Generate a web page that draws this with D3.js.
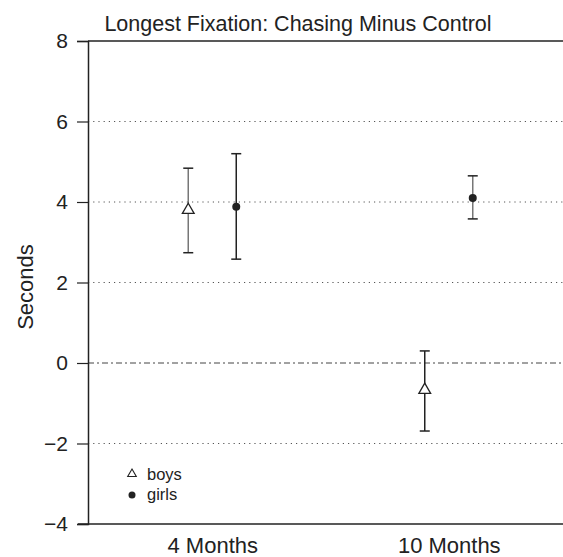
<!DOCTYPE html>
<meta charset="utf-8">
<style>
  body { margin: 0; background: #fff; }
  text { font-family: "Liberation Sans", Arial, sans-serif; fill: #222; }
  .grid line { stroke: #555; stroke-width: 1; stroke-dasharray: 1.2 4; }
</style>
<svg width="563" height="557"></svg>
<script src="https://d3js.org/d3.v7.min.js"></script>
<script>
// data: longest fixation difference (s), point estimate and interval
var ages = ["4 Months", "10 Months"];
var groups = ["boys", "girls"];
var boysMean = [3.8, -0.67];
var boysLow = [2.74, -1.69];
var boysHigh = [4.84, 0.3];
var girlsMean = [3.88, 4.1];
var girlsLow = [2.58, 3.58];
var girlsHigh = [5.2, 4.65];
var yTicks = [-4, -2, 0, 2, 4, 6, 8];

var svg = d3.select("svg");
var mLeft = 88, mRight = 563, mTop = 41, mBottom = 524;

var x = d3.scalePoint().domain(ages).range([94, 567]).padding(0.5);
var y = d3.scaleLinear().domain([-4, 8]).range([mBottom, mTop]);
var offset = d3.scaleOrdinal().domain(groups).range([-24, 24]);

// build rows from the arrays
var rows = [];
ages.forEach(function(a, i) {
  rows.push({age: a, group: "boys", mean: boysMean[i], lo: boysLow[i], hi: boysHigh[i]});
  rows.push({age: a, group: "girls", mean: girlsMean[i], lo: girlsLow[i], hi: girlsHigh[i]});
});
// bar colours as in the figure (some bars drawn grey)
var barColor = {"4 Months|boys": "#777", "4 Months|girls": "#222", "10 Months|boys": "#222", "10 Months|girls": "#777"};

// dotted grid
svg.append("g").attr("class", "grid")
  .selectAll("line").data(yTicks.filter(function(d) { return d !== 0 && d !== 8 && d !== -4; }))
  .enter().append("line")
  .attr("x1", mLeft).attr("x2", mRight)
  .attr("y1", function(d) { return y(d); }).attr("y2", function(d) { return y(d); });

// zero line, dash-dot
svg.append("line")
  .attr("x1", mLeft).attr("x2", mRight)
  .attr("y1", y(0)).attr("y2", y(0))
  .attr("stroke", "#444").attr("stroke-width", 1)
  .attr("stroke-dasharray", "6 3 2 3");

// top frame line
svg.append("line")
  .attr("x1", mLeft).attr("x2", mRight)
  .attr("y1", y(8)).attr("y2", y(8))
  .attr("stroke", "#222").attr("stroke-width", 1.5);

// y axis
var yAxis = svg.append("g")
  .attr("transform", "translate(" + mLeft + ",0)")
  .call(d3.axisLeft(y).tickValues(yTicks).tickSize(11).tickPadding(9)
    .tickFormat(function(d) { return d < 0 ? "\u2212" + Math.abs(d) : d; }));
yAxis.select(".domain").attr("stroke", "#222").attr("stroke-width", 1.5);
yAxis.selectAll(".tick line").attr("stroke", "#222").attr("stroke-width", 1.2);
yAxis.selectAll("text").attr("font-size", 21).attr("fill", "#222")
  .style("font-family", "Liberation Sans, Arial, sans-serif");

// x axis
var xAxis = svg.append("g")
  .attr("transform", "translate(0," + mBottom + ")")
  .call(d3.axisBottom(x).tickSize(0).tickPadding(13));
xAxis.select(".domain").remove();
xAxis.append("line").attr("x1", mLeft - 10).attr("x2", mRight)
  .attr("stroke", "#222").attr("stroke-width", 1.5);
xAxis.selectAll("text").attr("font-size", 22).attr("fill", "#222")
  .style("font-family", "Liberation Sans, Arial, sans-serif");

// error bars
var bars = svg.append("g").selectAll("g").data(rows).enter().append("g")
  .attr("transform", function(d) { return "translate(" + (x(d.age) + offset(d.group)) + ",0)"; });
bars.append("line")
  .attr("y1", function(d) { return y(d.lo); }).attr("y2", function(d) { return y(d.hi); })
  .attr("stroke", function(d) { return barColor[d.age + "|" + d.group]; })
  .attr("stroke-width", 1.5);
bars.selectAll(".cap").data(function(d) { return [d.lo, d.hi]; })
  .enter().append("line").attr("class", "cap")
  .attr("x1", -5).attr("x2", 5)
  .attr("y1", function(d) { return y(d); }).attr("y2", function(d) { return y(d); })
  .attr("stroke", "#222").attr("stroke-width", 1.5);

var tri = d3.symbol().type(d3.symbolTriangle).size(60);
bars.filter(function(d) { return d.group === "boys"; })
  .append("path").attr("d", tri)
  .attr("transform", function(d) { return "translate(0," + y(d.mean) + ")"; })
  .attr("fill", "#fff").attr("stroke", "#222").attr("stroke-width", 1.3);
bars.filter(function(d) { return d.group === "girls"; })
  .append("circle").attr("r", 4)
  .attr("cy", function(d) { return y(d.mean); })
  .attr("fill", "#222");

// legend
var legend = svg.append("g");
legend.append("path").attr("d", d3.symbol().type(d3.symbolTriangle).size(32))
  .attr("transform", "translate(132,474)")
  .attr("fill", "#fff").attr("stroke", "#222").attr("stroke-width", 1.1);
legend.append("circle").attr("cx", 132).attr("cy", 495).attr("r", 3.5).attr("fill", "#222");
legend.selectAll("text").data(groups).enter().append("text")
  .attr("x", 147).attr("y", function(d, i) { return 480 + i * 20; })
  .attr("font-size", 16.5).text(function(d) { return d; });

// title and y label
svg.append("text").attr("x", 298).attr("y", 31).attr("text-anchor", "middle")
  .attr("font-size", 21.5).text("Longest Fixation: Chasing Minus Control");
svg.append("text").attr("transform", "translate(33,287) rotate(-90)")
  .attr("text-anchor", "middle").attr("font-size", 22).text("Seconds");
</script>
